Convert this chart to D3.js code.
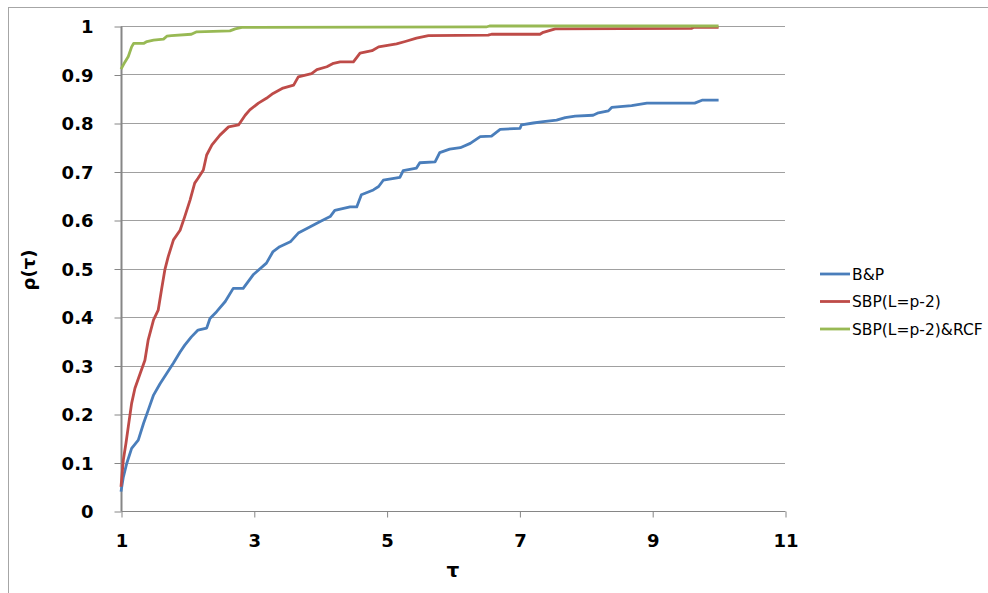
<!DOCTYPE html>
<html>
<head>
<meta charset="utf-8">
<script src="https://cdn.jsdelivr.net/npm/d3@7/dist/d3.min.js"></script>
<style>
  html, body { margin: 0; padding: 0; background: #fff; }
  svg { display: block; }
</style>
</head>
<body>
<svg id="chart" width="988" height="593"></svg>
<script>
// ---- data ----
const seriesNames = ["B&P", "SBP(L=p-2)", "SBP(L=p-2)&RCF"];

const bpTau = [1.00,1.035,1.086,1.16,1.26,1.34,1.41,1.49,1.59,1.69,1.79,1.89,1.96,2.06,2.16,2.29,2.34,2.44,2.57,2.69,2.84,2.99,3.19,3.29,3.39,3.55,3.67,3.85,4.00,4.15,4.22,4.45,4.55,4.62,4.80,4.88,4.95,5.20,5.25,5.45,5.50,5.73,5.80,5.95,6.11,6.26,6.41,6.58,6.71,7.01,7.03,7.21,7.36,7.56,7.69,7.84,8.11,8.19,8.34,8.39,8.69,8.92,9.64,9.75,10.0];
const bpRho = [0.040,0.070,0.098,0.129,0.146,0.181,0.208,0.239,0.263,0.284,0.305,0.328,0.342,0.359,0.373,0.377,0.397,0.411,0.432,0.459,0.459,0.487,0.511,0.535,0.545,0.555,0.573,0.586,0.597,0.607,0.620,0.627,0.627,0.652,0.662,0.669,0.682,0.688,0.702,0.707,0.718,0.720,0.739,0.746,0.749,0.758,0.772,0.773,0.787,0.789,0.796,0.800,0.803,0.806,0.811,0.814,0.816,0.821,0.825,0.832,0.836,0.841,0.841,0.847,0.847];

const sbpTau = [1.00,1.035,1.075,1.11,1.16,1.21,1.29,1.36,1.41,1.49,1.56,1.61,1.66,1.71,1.79,1.89,1.96,2.04,2.11,2.16,2.24,2.29,2.37,2.49,2.62,2.77,2.87,2.94,3.07,3.19,3.29,3.44,3.60,3.67,3.87,3.95,4.10,4.20,4.30,4.50,4.60,4.78,4.88,5.15,5.28,5.45,5.63,6.53,6.58,7.31,7.36,7.54,9.59,9.62,10.0];
const sbpRho = [0.050,0.105,0.140,0.174,0.222,0.253,0.284,0.311,0.353,0.394,0.414,0.456,0.497,0.524,0.559,0.579,0.607,0.641,0.676,0.686,0.703,0.734,0.755,0.775,0.792,0.796,0.816,0.827,0.841,0.851,0.861,0.872,0.878,0.895,0.902,0.910,0.916,0.923,0.926,0.926,0.944,0.949,0.957,0.963,0.968,0.975,0.980,0.981,0.983,0.983,0.987,0.994,0.995,0.997,0.997];

const rcfTau = [1.00,1.06,1.11,1.16,1.19,1.34,1.39,1.49,1.64,1.69,1.76,2.06,2.14,2.64,2.72,2.82,6.50,6.55,10.0];
const rcfRho = [0.911,0.926,0.937,0.957,0.964,0.964,0.968,0.971,0.973,0.979,0.980,0.983,0.988,0.990,0.994,0.997,0.998,1.000,1.000];

const xTicks = [1, 3, 5, 7, 9, 11];
const yTicks = [0, 0.1, 0.2, 0.3, 0.4, 0.5, 0.6, 0.7, 0.8, 0.9, 1];
const colors = ["#4a7ebb", "#be4b48", "#98b954"];

// ---- layout ----
const svg = d3.select("#chart");
const plotL = 121, plotR = 785, plotT = 26, plotB = 511;
const x = d3.scaleLinear().domain([1, 11]).range([plotL, plotR]);
const y = d3.scaleLinear().domain([0, 1]).range([plotB, plotT]);

// chart area border (top & left visible)
svg.append("rect")
  .attr("x", 8.5).attr("y", 7.5).attr("width", 990).attr("height", 600)
  .attr("fill", "none").attr("stroke", "#a6a6a6").attr("stroke-width", 1);

// gridlines
svg.append("g").selectAll("line").data(yTicks.slice(1)).join("line")
  .attr("x1", plotL).attr("x2", plotR)
  .attr("y1", d => Math.round(y(d)) + 0.5).attr("y2", d => Math.round(y(d)) + 0.5)
  .attr("stroke", "#a0a0a0").attr("stroke-width", 1);

// y axis
const yAxis = svg.append("g")
  .attr("transform", `translate(${plotL + 0.5},0.5)`)
  .call(d3.axisLeft(y).tickValues(yTicks).tickSize(7).tickPadding(21)
    .tickFormat(d => d3.format("")(+d.toFixed(1))));
yAxis.select(".domain").attr("stroke", "#868686").attr("stroke-width", 2).attr("d", `M0,${plotB}V${plotT}`);
yAxis.selectAll(".tick line").attr("stroke", "#868686");
yAxis.selectAll("text")
  .attr("font-family", "'DejaVu Sans', Verdana, sans-serif")
  .attr("font-weight", "bold").attr("font-size", 18).attr("fill", "#000")
  .attr("dy", "0.36em");

// x axis
const xAxis = svg.append("g")
  .attr("transform", `translate(0.5,${plotB + 0.5})`)
  .call(d3.axisBottom(x).tickValues(xTicks).tickSize(6).tickPadding(17));
xAxis.select(".domain").attr("stroke", "#868686").attr("stroke-width", 1).attr("d", `M${plotL},0H${plotR}`);
xAxis.selectAll(".tick line").attr("stroke", "#868686");
xAxis.selectAll("text")
  .attr("font-family", "'DejaVu Sans', Verdana, sans-serif")
  .attr("font-weight", "bold").attr("font-size", 18).attr("fill", "#000");

// series lines
const series = [
  d3.zip(bpTau, bpRho),
  d3.zip(sbpTau, sbpRho),
  d3.zip(rcfTau, rcfRho)
];
const line = d3.line().x(d => x(d[0])).y(d => y(d[1]));
svg.append("g").selectAll("path").data(series).join("path")
  .attr("d", line)
  .attr("fill", "none")
  .attr("stroke", (d, i) => colors[i])
  .attr("stroke-width", 2.8)
  .attr("stroke-linejoin", "round");

// axis titles
svg.append("text")
  .attr("transform", "translate(35,270) rotate(-90)")
  .attr("text-anchor", "middle")
  .attr("font-family", "'DejaVu Sans', Verdana, sans-serif")
  .attr("font-weight", "bold").attr("font-size", 18)
  .text("ρ(τ)");
svg.append("text")
  .attr("x", (plotL + plotR) / 2).attr("y", 577)
  .attr("text-anchor", "middle")
  .attr("font-family", "'DejaVu Sans', Verdana, sans-serif")
  .attr("font-weight", "bold").attr("font-size", 20)
  .text("τ");

// legend
const legend = svg.append("g").selectAll("g").data(seriesNames).join("g")
  .attr("transform", (d, i) => `translate(820,${274 + i * 27.5})`);
legend.append("line")
  .attr("x1", 0).attr("x2", 30).attr("y1", 0).attr("y2", 0)
  .attr("stroke", (d, i) => colors[i]).attr("stroke-width", 2.8);
legend.append("text")
  .attr("x", 32).attr("y", 0).attr("dy", "0.36em")
  .attr("font-family", "'DejaVu Sans', Verdana, sans-serif")
  .attr("font-size", 15.5).attr("fill", "#000")
  .text(d => d);
</script>
</body>
</html>
